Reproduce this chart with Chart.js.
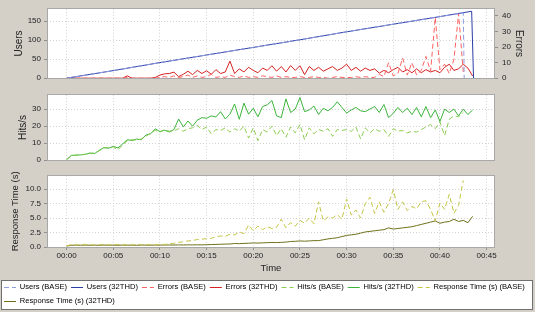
<!DOCTYPE html>
<html>
<head>
<meta charset="utf-8">
<script src="https://cdn.jsdelivr.net/npm/chart.js@4.4.1/dist/chart.umd.min.js"></script>
<style>
  html, body { margin: 0; padding: 0; background: #d4d0c8; overflow: hidden; }
  #wrap { position: relative; width: 535px; height: 312px; }
  canvas { position: absolute; left: 0; }
</style>
</head>
<body>
<div id="wrap">
  <canvas id="top" width="535" height="87" style="top:0"></canvas>
  <canvas id="mid" width="535" height="81" style="top:87px"></canvas>
  <canvas id="bot" width="535" height="150" style="top:168px"></canvas>
</div>
<script>
// time in minutes, one sample every 30 s
const STEP = 0.5;

const USERS_T_BASE = [0, 5, 10, 15, 20, 25, 30, 35, 40, 42.5, 42.6];
const USERS_BASE   = [0, 20, 41, 61, 81, 101, 122, 142, 162, 172, 0];
const USERS_T_32THD = [0, 5, 10, 15, 20, 25, 30, 35, 40, 43.4, 43.6];
const USERS_32THD   = [0, 20, 41, 61, 81, 101, 122, 142, 162, 176, 0];

const ERR_BASE = [
  0, 0, 0, 0, 0, 0, 0, 0, 0, 0,
  0, 0, 0, 0.5, 0, 0, 0, 0, 0, 0,
  0.5, 1.0, 0.5, 1.5, 0.5, 1.0, 2.0, 0.5, 1.5, 0.5,
  1.0, 2.5, 0.5, 1.0, 0.5, 2.0, 1.0, 0.5, 1.5, 0.5,
  1.0, 0.5, 1.5, 1.0, 0.5, 1.5, 0.5, 1.0, 0.5, 0.5,
  1.0, 0.5, 0.5, 1.0, 0.5, 0.5, 0, 0.5, 1.0, 0.5,
  0.5, 0.5, 1.0, 0.5, 1.0, 0.5, 0.5, 2.5, 1.0, 10.0,
  1.5, 3.0, 13.0, 2.0, 10.0, 2.0, 5.0, 14.0, 4.5, 39.0,
  5.5, 9.0, 3.0, 12.0, 41.5, 4.0
];
const ERR_32THD = [
  0, 0, 0, 0, 0, 0, 0, 0, 0, 0,
  0, 0, 0, 1.5, 0, 0, 0, 0, 0, 0.5,
  2.0, 2.8, 3.0, 3.9, 1.0, 2.5, 4.5, 2.3, 5.0, 3.0,
  4.8, 2.5, 5.5, 3.0, 4.0, 11.0, 3.0, 6.0, 4.0, 7.0,
  5.0, 3.5, 6.5, 5.0, 8.0, 4.5, 7.5, 4.0, 8.1, 5.0,
  8.0, 2.3, 7.5, 5.0, 7.0, 4.5, 6.0, 7.5, 5.0, 6.5,
  9.0, 5.0, 7.0, 4.5, 6.5, 5.0, 6.0, 3.3, 5.0, 3.5,
  5.5, 7.0, 4.0, 5.5, 3.5, 6.0, 3.5, 5.5, 4.0, 5.0,
  3.5, 7.0, 9.0, 5.0, 6.0, 9.0, 6.5, 1.4
];

const HITS_BASE = [
  0.3, 2.6, 2.9, 3.3, 3.5, 4.0, 4.2, 5.5, 7.2, 7.6,
  7.8, 6.0, 9.0, 11.5, 12.0, 11.8, 12.5, 14.0, 16.0, 17.5,
  16.5, 18.0, 17.0, 17.2, 18.5, 17.0, 18.5, 19.0, 20.5, 18.0,
  19.5, 15.5, 18.0, 17.5, 19.0, 16.5, 18.5, 17.0, 20.0, 13.0,
  19.0, 11.5, 18.0, 16.5, 20.0, 14.5, 18.5, 13.5, 19.5, 16.0,
  21.0, 12.0, 19.0, 15.5, 18.0, 17.0, 18.5, 14.0, 18.0, 17.5,
  18.0, 17.0, 19.5, 12.5, 19.0, 16.0, 18.5, 17.0, 18.0, 14.0,
  18.5, 17.0, 17.5, 16.0, 17.0, 16.5, 18.0, 19.5, 21.0, 18.5,
  22.5, 14.5, 24.0, 26.0, 25.5, 28.0
];
const HITS_32THD = [
  0.3, 2.8, 3.0, 3.1, 3.4, 4.2, 3.9, 5.8, 7.4, 7.0,
  8.1, 7.2, 9.5, 12.0, 11.6, 12.4, 12.0, 14.8, 15.5, 18.4,
  16.8, 17.6, 16.6, 18.0, 24.2, 19.5, 23.0, 20.0, 23.5, 25.0,
  24.6, 26.0, 25.4, 28.5, 24.2, 27.0, 33.0, 24.0, 33.5, 27.0,
  30.5, 25.5, 31.5, 32.5, 35.0, 26.0, 25.0, 36.0, 28.0, 30.0,
  36.8, 28.5, 29.5, 31.8, 26.8, 30.5, 29.0, 31.0, 34.3, 31.0,
  27.7, 29.5, 31.0, 29.0, 28.5, 30.0, 31.5, 28.0, 32.7, 25.0,
  27.5, 31.0, 28.0, 30.5, 26.8, 31.0, 25.5, 31.5, 25.0, 29.5,
  22.7, 30.0, 28.0, 30.0, 26.0, 30.0, 26.8, 29.4
];

const RT_BASE = [
  0.2, 0.4, 0.35, 0.4, 0.45, 0.4, 0.35, 0.4, 0.42, 0.38,
  0.4, 0.45, 0.38, 0.4, 0.36, 0.42, 0.4, 0.38, 0.42, 0.4,
  0.45, 0.45, 0.55, 0.65, 0.8, 0.9, 1.05, 1.1, 1.3, 1.35,
  1.45, 1.5, 1.75, 1.9, 1.85, 2.2, 2.1, 2.6, 2.3, 3.8,
  2.8, 3.6, 3.0, 3.5, 3.2, 3.4, 4.8, 3.3, 4.2, 3.6,
  4.6, 4.1, 5.0, 4.0, 7.8, 4.5, 5.2, 5.0, 5.6, 4.8,
  8.3, 5.5, 6.4, 5.0, 7.5, 8.6, 5.8, 7.8, 6.0, 7.5,
  9.9, 6.5, 7.8, 6.3, 7.0, 6.6, 7.8, 8.0, 6.5, 4.5,
  7.6, 6.5, 9.1, 5.8, 7.2, 11.5
];
const RT_32THD = [
  0.15, 0.3, 0.32, 0.3, 0.33, 0.3, 0.32, 0.3, 0.33, 0.31,
  0.32, 0.3, 0.33, 0.31, 0.32, 0.3, 0.33, 0.32, 0.31, 0.33,
  0.33, 0.34, 0.35, 0.34, 0.36, 0.35, 0.37, 0.36, 0.38, 0.37,
  0.4, 0.42, 0.45, 0.47, 0.5, 0.52, 0.6, 0.58, 0.62, 0.65,
  0.7, 0.68, 0.72, 0.75, 0.78, 0.76, 0.8, 0.85, 0.95, 0.98,
  1.05, 1.0, 1.05, 1.1, 1.1, 1.25, 1.4, 1.5, 1.6, 1.8,
  2.0, 2.1, 2.2, 2.4, 2.6, 2.7, 2.8, 2.9, 3.0, 3.3,
  3.1, 3.2, 3.3, 3.4, 3.5, 3.7, 3.9, 4.1, 4.3, 4.5,
  4.1, 4.3, 4.4, 4.8, 4.4, 4.6, 4.2, 5.3
];

const X_TICKS = [0, 5, 10, 15, 20, 25, 30, 35, 40, 45];

const FONT = "'Liberation Sans', Arial, sans-serif";
const DASH = [5, 3];
const GRID_COLOR = '#d2d2d2';
const GRID_DASH = [1, 2];

function pts(values, times) {
  return values.map((y, i) => ({ x: times ? times[i] : i * STEP, y: y }));
}

function line(label, data, color, dashed, axis) {
  return {
    label: label,
    data: data,
    borderColor: color,
    backgroundColor: color,
    borderWidth: 1,
    borderDash: dashed ? DASH : [],
    pointRadius: 0,
    tension: 0,
    fill: false,
    yAxisID: axis || 'y'
  };
}

const topSets = [
  line('Users (BASE)', pts(USERS_BASE, USERS_T_BASE), '#8e9ce0', true),
  line('Users (32THD)', pts(USERS_32THD, USERS_T_32THD), '#2b3ea6', false),
  line('Errors (BASE)', pts(ERR_BASE), '#ff6060', true, 'yR'),
  line('Errors (32THD)', pts(ERR_32THD), '#d42222', false, 'yR')
];
const midSets = [
  line('Hits/s (BASE)', pts(HITS_BASE), '#8ccc50', true),
  line('Hits/s (32THD)', pts(HITS_32THD), '#3cb43c', false)
];
const botSets = [
  line('Response Time (s) (BASE)', pts(RT_BASE), '#c4c446', true),
  line('Response Time (s) (32THD)', pts(RT_32THD), '#6f6f1c', false)
];
const allSets = topSets.concat(midSets, botSets);

// white plot area, grey outline, framed legend with line samples
const frame = {
  id: 'frame',
  beforeDraw(chart) {
    const ctx = chart.ctx, a = chart.chartArea;
    ctx.save();
    ctx.fillStyle = '#ffffff';
    ctx.fillRect(a.left, a.top, a.right - a.left, a.bottom - a.top);
    const lg = chart.legend;
    if (lg && lg.options.display) {
      const y = Math.round(lg.top) + 2.5;
      ctx.fillRect(1.5, y, 531, 29);
      ctx.strokeStyle = '#707070';
      ctx.lineWidth = 1;
      ctx.strokeRect(1.5, y, 531, 29);
    }
    ctx.restore();
  },
  afterDraw(chart) {
    const ctx = chart.ctx, a = chart.chartArea;
    ctx.save();
    ctx.strokeStyle = '#a8a8a8';
    ctx.lineWidth = 1;
    ctx.strokeRect(Math.round(a.left) + 0.5, Math.round(a.top) - 0.5,
      Math.round(a.right - a.left) - 1, Math.round(a.bottom - a.top) + 1);
    const lg = chart.legend;
    if (lg && lg.options.display) {
      lg.legendHitBoxes.forEach((hb, i) => {
        const item = lg.legendItems[i];
        const y = Math.round(hb.top + hb.height / 2) + 0.5;
        ctx.strokeStyle = item.sampleColor;
        ctx.setLineDash(item.sampleDash);
        ctx.beginPath();
        ctx.moveTo(hb.left, y);
        ctx.lineTo(hb.left + 12, y);
        ctx.stroke();
      });
    }
    ctx.restore();
  }
};

function xAxis(showLabels) {
  return {
    type: 'linear',
    min: -2.1,
    max: 45.9,
    afterBuildTicks(s) { s.ticks = X_TICKS.map(v => ({ value: v })); },
    afterFit(s) { s.height = showLabels ? 30.7 : 0; },
    grid: { color: GRID_COLOR, drawTicks: showLabels, tickLength: 3, tickColor: '#909090' },
    border: { display: false, dash: GRID_DASH },
    ticks: {
      display: showLabels,
      padding: 0.5,
      color: '#222',
      font: { family: FONT, size: 8 },
      maxRotation: 0,
      callback: v => '00:' + String(v).padStart(2, '0')
    },
    title: {
      display: showLabels,
      text: 'Time',
      color: '#222',
      font: { family: FONT, size: 9.5 },
      padding: { top: 0, bottom: 3.7 }
    }
  };
}

function yAxis(title, max, step, titlePad, fmt, titleSize) {
  return {
    position: 'left',
    min: 0,
    max: max,
    afterBuildTicks(s) {
      const t = [];
      for (let v = 0; v <= max; v += step) t.push({ value: v });
      s.ticks = t;
    },
    afterFit(s) { s.width = 47; },
    grid: { color: GRID_COLOR, tickLength: 3, tickColor: '#909090' },
    border: { display: false, dash: GRID_DASH },
    ticks: {
      padding: 3,
      color: '#222',
      font: { family: FONT, size: 8 },
      callback: fmt || (v => v)
    },
    title: {
      display: true,
      text: title,
      color: '#222',
      font: { family: FONT, size: titleSize || 10 },
      padding: { top: titlePad, bottom: 0 }
    }
  };
}

function spacer() {
  return {
    position: 'right',
    display: true,
    afterFit(s) { s.width = 40; },
    grid: { display: false },
    border: { display: false },
    ticks: { display: false }
  };
}

function baseOptions(scales, padding, legend) {
  return {
    responsive: false,
    animation: false,
    events: [],
    layout: { padding: padding },
    scales: scales,
    plugins: {
      tooltip: { enabled: false },
      legend: legend || { display: false }
    }
  };
}

const errAxis = {
  position: 'right',
  min: 0,
  max: 44.6,
  afterBuildTicks(s) { s.ticks = [0, 10, 20, 30, 40].map(v => ({ value: v })); },
  afterFit(s) { s.width = 40; },
  grid: { drawOnChartArea: false, tickLength: 3, tickColor: '#909090' },
  border: { display: false },
  ticks: { padding: 4, color: '#222', font: { family: FONT, size: 8 } },
  title: {
    display: true,
    text: 'Errors',
    color: '#222',
    font: { family: FONT, size: 10 },
    padding: { top: 10.7, bottom: 0 }
  }
};

new Chart(document.getElementById('top'), {
  type: 'line',
  data: { datasets: topSets },
  options: baseOptions(
    { x: xAxis(false), y: yAxis('Users', 182.5, 50, 13), yR: errAxis },
    { top: 8, bottom: 2, left: 0, right: 0 }
  ),
  plugins: [frame]
});

new Chart(document.getElementById('mid'), {
  type: 'line',
  data: { datasets: midSets },
  options: baseOptions(
    { x: xAxis(false), y: yAxis('Hits/s', 38.4, 10, 17), yR: spacer() },
    { top: 2, bottom: 2, left: 0, right: 0 }
  ),
  plugins: [frame]
});

new Chart(document.getElementById('bot'), {
  type: 'line',
  data: { datasets: botSets },
  options: baseOptions(
    {
      x: xAxis(true),
      y: yAxis('Response Time (s)', 12.3, 2.5, 9.5, v => v.toFixed(1), 9.5),
      yR: spacer()
    },
    { top: 2, bottom: 2.3, left: 0, right: 0 },
    {
      display: true,
      position: 'bottom',
      align: 'start',
      labels: {
        color: '#222',
        font: { family: FONT, size: 7.6 },
        boxWidth: 12,
        boxHeight: 10,
        padding: 4,
        generateLabels: () => allSets.map(ds => ({
          text: ds.label,
          fillStyle: 'rgba(0,0,0,0)',
          strokeStyle: 'rgba(0,0,0,0)',
          lineWidth: 0,
          hidden: false,
          sampleColor: ds.borderColor,
          sampleDash: ds.borderDash
        }))
      }
    }
  ),
  plugins: [frame]
});
</script>
</body>
</html>
